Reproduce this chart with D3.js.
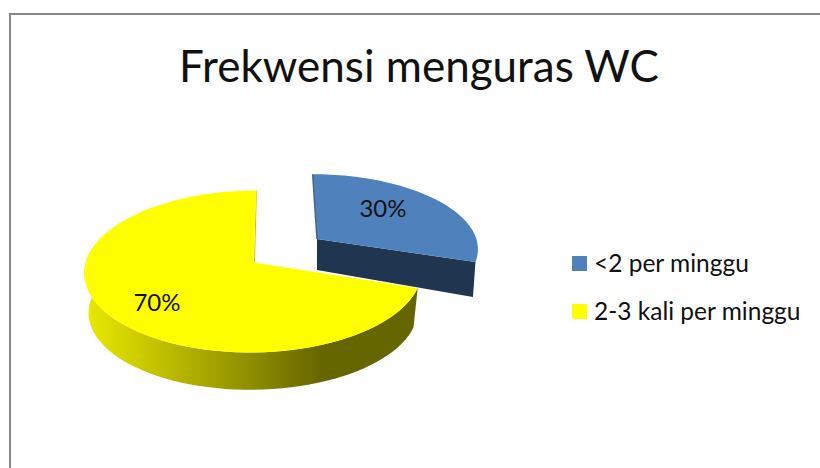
<!DOCTYPE html>
<html><head><meta charset="utf-8">
<script src="https://cdn.jsdelivr.net/npm/d3@7/dist/d3.min.js"></script>
<style>html,body{margin:0;padding:0;background:#fff}svg{display:block}text{font-family:Lato,"Open Sans",sans-serif;fill:#111}</style>
</head><body><div id="c"></div>
<script>
const categories = ["<2 per minggu", "2-3 kali per minggu"];
const values = [30, 70];
const labels = ["30%", "70%"];
const title = "Frekwensi menguras WC";
const colors = ["#4f81bd", "#ffff00"];

const W = 820, H = 468;
const svg = d3.select("#c").append("svg").attr("width", W).attr("height", H);
const defs = svg.append("defs");
const grad = defs.append("linearGradient").attr("id", "side").attr("gradientUnits", "userSpaceOnUse")
  .attr("x1", 88).attr("x2", 322).attr("y1", 0).attr("y2", 0);
grad.append("stop").attr("offset", 0).attr("stop-color", "#e8e800");
grad.append("stop").attr("offset", 1).attr("stop-color", "#666600");

svg.append("path").attr("d", "M10,468V14H820").attr("fill", "none").attr("stroke", "#868686").attr("stroke-width", 2);

const arcs = d3.pie().sort(null)(values);
const p = 0.111, b = 80, a = 168.6;
// perspective projection of a point on the unit disc
function project(g, th, r = 1) {
  const u = r * Math.sin(th), v = r * Math.cos(th), w = 1 + p * v;
  const Y = b * v / w;
  return [g.cx + g.sx * a * u / w + g.shear * Y, g.cy - g.sy * Y];
}
const line = d3.line();
const rim = (g, t0, t1) => d3.range(0, 61).map(i => project(g, t0 + (t1 - t0) * i / 60));
const topYellow = { cx: 253.5, cy: 262.5, sx: 0.995, sy: 1, shear: 0.04 };
const botYellow = { cx: 253.5, cy: 302.5, sx: 0.97, sy: 0.97, shear: 0.04 };
const topBlue = { cx: 317, cy: 239, sx: 0.945, sy: 0.9, shear: -0.06 };
const botBlue = { cx: 317, cy: 270, sx: 0.93, sy: 1.05, shear: -0.06 };

// blue slice (exploded, behind)
const B = arcs[0], Y = arcs[1];
svg.append("path").attr("fill", "#1f3550").attr("d",
  line([[topBlue.cx, topBlue.cy], project(topBlue, B.endAngle), project(botBlue, B.endAngle), [botBlue.cx, botBlue.cy]]) + "Z");
svg.append("path").attr("fill", colors[0]).attr("d",
  line([[topBlue.cx, topBlue.cy], ...rim(topBlue, B.startAngle, B.endAngle)]) + "Z");
svg.append("path").attr("fill", "none").attr("stroke", "#44658c").attr("stroke-width", 1.5).attr("d",
  line([project(topBlue, B.startAngle), [topBlue.cx, topBlue.cy]]));

// yellow slice
const sideEnd = Y.startAngle + (285 - 108) * Math.PI / 180;
svg.append("path").attr("fill", "url(#side)").attr("d",
  line([...rim(topYellow, Y.startAngle, sideEnd), ...rim(botYellow, sideEnd, Y.startAngle)]) + "Z");
svg.append("path").attr("fill", "none").attr("stroke", "#c9c900").attr("stroke-width", 1).attr("d",
  line([project(topYellow, Y.endAngle), [topYellow.cx + 1, topYellow.cy]]));
svg.append("path").attr("fill", colors[1]).attr("d",
  line([[topYellow.cx, topYellow.cy], ...rim(topYellow, Y.startAngle, Y.endAngle)]) + "Z");

// value labels
const labelPos = [[383, 217], [157, 311]];
svg.selectAll(".val").data(labels).join("text").attr("class", "val")
  .attr("x", (d, i) => labelPos[i][0]).attr("y", (d, i) => labelPos[i][1])
  .attr("text-anchor", "middle").attr("font-size", 24).text(d => d);

svg.append("text").attr("x", 419).attr("y", 82).attr("text-anchor", "middle")
  .attr("font-size", 44).text(title);

// legend
const ly = d3.scalePoint().domain(categories).range([256, 304]);
const lg = svg.selectAll(".lg").data(categories).join("g").attr("class", "lg")
  .attr("transform", d => `translate(572,${ly(d)})`);
lg.append("rect").attr("width", 15).attr("height", 15).attr("fill", (d, i) => colors[i]);
lg.append("text").attr("x", 22).attr("y", 16).attr("font-size", 24.5).text(d => d);
</script></body></html>
